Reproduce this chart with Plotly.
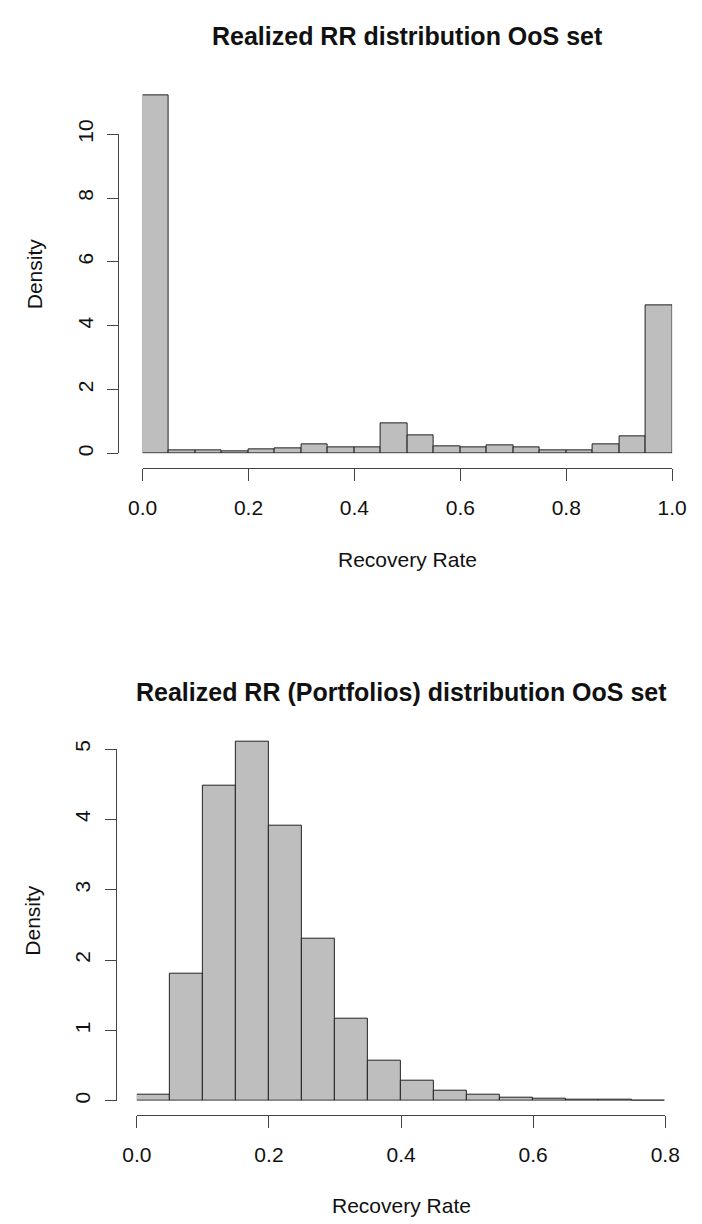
import plotly.graph_objects as go

# ---------------- data ----------------
top_bin_left = [0.00, 0.05, 0.10, 0.15, 0.20, 0.25, 0.30, 0.35, 0.40, 0.45,
                0.50, 0.55, 0.60, 0.65, 0.70, 0.75, 0.80, 0.85, 0.90, 0.95]
top_density = [11.22, 0.09, 0.09, 0.08, 0.12, 0.17, 0.28, 0.19, 0.19, 0.95,
               0.57, 0.23, 0.19, 0.24, 0.19, 0.10, 0.11, 0.27, 0.52, 4.64]
top_xticks = [0.0, 0.2, 0.4, 0.6, 0.8, 1.0]
top_yticks = [0, 2, 4, 6, 8, 10]

bot_bin_left = [0.00, 0.05, 0.10, 0.15, 0.20, 0.25, 0.30, 0.35,
                0.40, 0.45, 0.50, 0.55, 0.60, 0.65, 0.70, 0.75]
bot_density = [0.08, 1.80, 4.48, 5.10, 3.91, 2.30, 1.17, 0.575,
               0.28, 0.145, 0.09, 0.05, 0.033, 0.015, 0.01, 0.005]
bot_xticks = [0.0, 0.2, 0.4, 0.6, 0.8]
bot_yticks = [0, 1, 2, 3, 4, 5]
bin_width = 0.05

title_top = "Realized RR distribution OoS set"
title_bot = "Realized RR (Portfolios) distribution OoS set"
xlab = "Recovery Rate"
ylab = "Density"

# ---------------- layout helpers ----------------
W, H = 702, 1224
def px(x):
    return x / W
def py(y):
    return 1 - y / H

FONT = "Liberation Sans, Arial, Helvetica, sans-serif"
AX = "#444"
BAR_FILL = "#BEBEBE"

fig = go.Figure()

fig.add_trace(go.Bar(
    x=[b + bin_width / 2 for b in top_bin_left], y=top_density, width=bin_width,
    marker=dict(color=BAR_FILL, line=dict(color="#222", width=1)),
    xaxis="x", yaxis="y", showlegend=False, hoverinfo="x+y"))
fig.add_trace(go.Bar(
    x=[b + bin_width / 2 for b in bot_bin_left], y=bot_density, width=bin_width,
    marker=dict(color=BAR_FILL, line=dict(color="#222", width=1)),
    xaxis="x2", yaxis="y2", showlegend=False, hoverinfo="x+y"))
# carriers for the visible (R-style, shortened) y axes
fig.add_trace(go.Scatter(x=[None], y=[None], xaxis="x", yaxis="y3",
                         showlegend=False, hoverinfo="skip"))
fig.add_trace(go.Scatter(x=[None], y=[None], xaxis="x2", yaxis="y4",
                         showlegend=False, hoverinfo="skip"))

tickfont = dict(family=FONT, size=21, color="#111")
common_x = dict(showgrid=False, zeroline=False, showline=True, linecolor=AX,
                linewidth=1, ticks="outside", ticklen=12, tickcolor=AX,
                tickwidth=1, tickfont=tickfont, tickformat=".1f",
                ticklabelstandoff=9, autorange=False, anchor="free")
common_yvis = dict(showgrid=False, zeroline=False, showline=True, linecolor=AX,
                   linewidth=1, ticks="outside", ticklen=11, tickcolor=AX,
                   tickwidth=1, tickfont=tickfont, tickangle=-90,
                   ticklabelstandoff=6, autorange=False, anchor="free")

top_px_per = 32.4
bot_px_per = 71.4
top_base = 445.0
bot_base = 1102.0

fig.update_layout(
    width=W, height=H,
    margin=dict(l=0, r=0, t=0, b=0),
    paper_bgcolor="white", plot_bgcolor="rgba(0,0,0,0)",
    bargap=0,
    font=dict(family=FONT, color="#111"),
    xaxis=dict(domain=[px(133.3), px(686.5)], range=[0, 1],
               tickvals=top_xticks, position=py(460), **common_x),
    yaxis=dict(domain=[py(top_base), py(top_base - 12 * top_px_per)],
               range=[0, 12], visible=False, anchor="x"),
    yaxis3=dict(domain=[py(top_base), py(top_base - 10 * top_px_per)],
                range=[0, 10], tickvals=top_yticks, position=px(108),
                **common_yvis),
    xaxis2=dict(domain=[px(127.3), px(679.3)], range=[0, 0.8],
                tickvals=bot_xticks, position=py(1116.7), **common_x),
    yaxis2=dict(domain=[py(bot_base), py(bot_base - 6 * bot_px_per)],
                range=[0, 6], visible=False, anchor="x2"),
    yaxis4=dict(domain=[py(bot_base), py(bot_base - 5 * bot_px_per)],
                range=[0, 5], tickvals=bot_yticks, position=px(105),
                **common_yvis),
)

title_font = dict(family=FONT, size=25, color="#111")
label_font = dict(family=FONT, size=21, color="#111")
ann = [
    dict(text="<b>" + title_top + "</b>", xref="x domain", x=0.5, yref="paper",
         y=py(21), xanchor="center", yanchor="middle", showarrow=False,
         font=title_font),
    dict(text="<b>" + title_bot + "</b>", xref="x2 domain", x=0.5, yref="paper",
         y=py(687), xanchor="center", yanchor="middle", showarrow=False,
         font=title_font),
    dict(text=xlab, xref="x domain", x=0.5, yref="paper", y=py(553),
         xanchor="center", yanchor="middle", showarrow=False, font=label_font),
    dict(text=xlab, xref="x2 domain", x=0.5, yref="paper", y=py(1208),
         xanchor="center", yanchor="middle", showarrow=False, font=label_font),
    dict(text=ylab, xref="paper", x=px(20), yref="paper", y=py(263),
         xanchor="center", yanchor="middle", showarrow=False, textangle=-90,
         font=label_font),
    dict(text=ylab, xref="paper", x=px(18), yref="paper", y=py(919),
         xanchor="center", yanchor="middle", showarrow=False, textangle=-90,
         font=label_font),
]
fig.update_layout(annotations=ann)

fig.write_html("out.html")
